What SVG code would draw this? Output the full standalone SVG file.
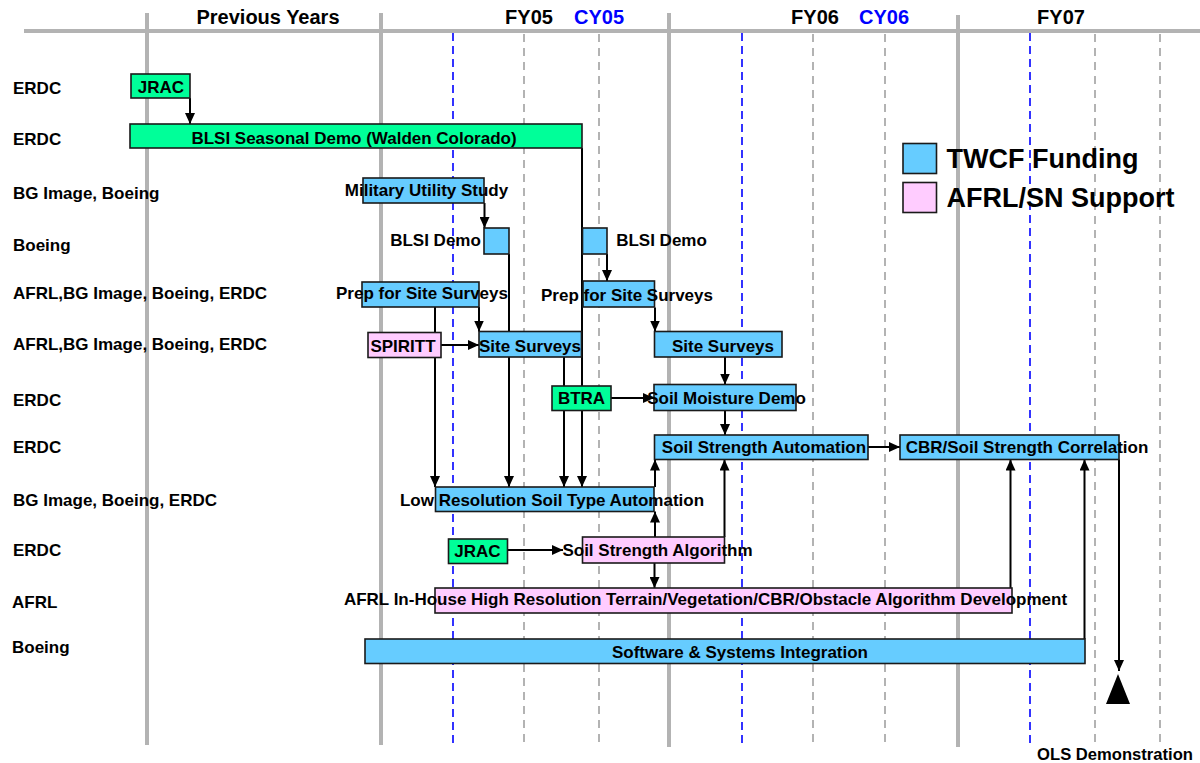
<svg xmlns="http://www.w3.org/2000/svg" width="1200" height="763" viewBox="0 0 1200 763">
<style>
text{font-family:"Liberation Sans",Arial,sans-serif;font-weight:bold;fill:#000}
.hdr{font-size:20px}
.cy{fill:#0000FF}
.lbl{font-size:17px}
.nt{font-size:17px;text-anchor:middle}
.leg{font-size:27px}
.box{stroke:#1a1a1a;stroke-width:1.6}
.g{fill:#00FF99}
.b{fill:#66CCFF}
.p{fill:#FFCCFF}
.solid{stroke:#B3B3B3;stroke-width:4}
.gd{stroke:#B3B3B3;stroke-width:2;stroke-dasharray:8 6}
.bd{stroke:#0000FF;stroke-width:1.6;stroke-dasharray:8 5}
.c{stroke:#000;stroke-width:2;fill:none;marker-end:url(#ah)}
</style>
<defs>
<marker id="ah" viewBox="0 0 11 10" refX="11" refY="5" markerWidth="11" markerHeight="10" markerUnits="userSpaceOnUse" orient="auto">
<path d="M0,0 L11,5 L0,10 z" fill="#000"/>
</marker>
</defs>
<rect width="1200" height="763" fill="#fff"/>
<g id="grid">
<line class="solid" x1="24" y1="31" x2="1200" y2="31"/>
<line class="solid" x1="147" y1="13" x2="147" y2="745"/>
<line class="solid" x1="381" y1="13" x2="381" y2="745"/>
<line class="solid" x1="669" y1="13" x2="669" y2="747"/>
<line class="solid" x1="958" y1="15" x2="958" y2="747"/>
<line class="bd" x1="453" y1="33" x2="453" y2="747"/>
<line class="bd" x1="742" y1="33" x2="742" y2="747"/>
<line class="bd" x1="1030" y1="33" x2="1030" y2="747"/>
<line class="gd" x1="524" y1="34" x2="524" y2="747"/>
<line class="gd" x1="599" y1="34" x2="599" y2="747"/>
<line class="gd" x1="813" y1="34" x2="813" y2="747"/>
<line class="gd" x1="885" y1="34" x2="885" y2="747"/>
<line class="gd" x1="1095" y1="34" x2="1095" y2="747"/>
<line class="gd" x1="1160" y1="34" x2="1160" y2="747"/>
</g>
<g id="header">
<text class="hdr" x="268" y="24" text-anchor="middle">Previous Years</text>
<text class="hdr" x="529" y="24" text-anchor="middle">FY05</text>
<text class="hdr cy" x="599" y="24" text-anchor="middle">CY05</text>
<text class="hdr" x="815" y="24" text-anchor="middle">FY06</text>
<text class="hdr cy" x="884" y="24" text-anchor="middle">CY06</text>
<text class="hdr" x="1061" y="24" text-anchor="middle">FY07</text>
</g>
<g id="row-labels">
<text class="lbl" x="13" y="94">ERDC</text>
<text class="lbl" x="13" y="145">ERDC</text>
<text class="lbl" x="13" y="199">BG Image, Boeing</text>
<text class="lbl" x="13" y="250.5">Boeing</text>
<text class="lbl" x="13" y="299">AFRL,BG Image, Boeing, ERDC</text>
<text class="lbl" x="13" y="349.5">AFRL,BG Image, Boeing, ERDC</text>
<text class="lbl" x="13" y="406">ERDC</text>
<text class="lbl" x="13" y="453">ERDC</text>
<text class="lbl" x="13" y="506">BG Image, Boeing, ERDC</text>
<text class="lbl" x="13" y="556">ERDC</text>
<text class="lbl" x="12" y="608">AFRL</text>
<text class="lbl" x="12" y="652.5">Boeing</text>
</g>
<g id="connectors">
<path class="c" d="M190,98 V124"/>
<path class="c" d="M582,148 V487"/>
<path class="c" d="M484.5,203 V228"/>
<path class="c" d="M509,254 V487"/>
<path class="c" d="M607,254 V281"/>
<path class="c" d="M479,307 V331.5"/>
<path class="c" d="M435,307 V487"/>
<path class="c" d="M441,345 H479"/>
<path class="c" d="M655,307.5 V331.5"/>
<path class="c" d="M564,357 V487"/>
<path class="c" d="M611,398 H654"/>
<path class="c" d="M725,357 V384.5"/>
<path class="c" d="M725,410.5 V435"/>
<path class="c" d="M655,487 V459.5"/>
<path class="c" d="M655,537 V511.5"/>
<path class="c" d="M724.5,537 V459.5"/>
<path class="c" d="M507.5,550 H563"/>
<path class="c" d="M654.5,563 V588"/>
<path class="c" d="M868,447 H900"/>
<path class="c" d="M1010.5,588 V459.5"/>
<path class="c" d="M1084.5,639 V459.5"/>
<path class="c" d="M1119,459.5 V671"/>
</g>
<g id="jrac1"><rect class="box g" x="131" y="74" width="59" height="24"/><text class="nt" x="161" y="93">JRAC</text></g>
<g id="blsi-seasonal"><rect class="box g" x="130" y="124" width="452" height="24"/><text class="nt" x="354" y="143.5">BLSI Seasonal Demo (Walden Colorado)</text></g>
<g id="military"><rect class="box b" x="363" y="178" width="121" height="25"/><text class="nt" x="426.5" y="196">Military Utility Study</text></g>
<g id="blsi-demo-1"><rect class="box b" x="484" y="228" width="25" height="26"/><text class="nt" x="435.5" y="246">BLSI Demo</text></g>
<g id="blsi-demo-2"><rect class="box b" x="582.5" y="228" width="24.5" height="26"/><text class="nt" x="661.5" y="246">BLSI Demo</text></g>
<g id="prep-1"><rect class="box b" x="362" y="282" width="117" height="25"/><text class="nt" x="422" y="298.5">Prep for Site Surveys</text></g>
<g id="prep-2"><rect class="box b" x="583" y="281" width="71.5" height="26"/><text class="nt" x="627" y="300.5">Prep for Site Surveys</text></g>
<g id="spiritt"><rect class="box p" x="368" y="332.5" width="73" height="25"/><text class="nt" x="403" y="351.5">SPIRITT</text></g>
<g id="site-surveys-1"><rect class="box b" x="479" y="331.5" width="102.5" height="25.5"/><text class="nt" x="530" y="351.5">Site Surveys</text></g>
<g id="site-surveys-2"><rect class="box b" x="654.5" y="331.5" width="127.5" height="25.5"/><text class="nt" x="723" y="352">Site Surveys</text></g>
<g id="btra"><rect class="box g" x="552" y="386" width="59" height="24.5"/><text class="nt" x="581.5" y="404">BTRA</text></g>
<g id="soil-moisture"><rect class="box b" x="654" y="384.5" width="142" height="26"/><text class="nt" x="726.5" y="404">Soil Moisture Demo</text></g>
<g id="soil-strength-automation"><rect class="box b" x="654.5" y="435" width="213.5" height="24.5"/><text class="nt" x="764" y="452.5">Soil Strength Automation</text></g>
<g id="cbr"><rect class="box b" x="900" y="435" width="219" height="24.5"/><text class="nt" x="1027" y="452.5">CBR/Soil Strength Correlation</text></g>
<g id="low-res"><rect class="box b" x="435.5" y="487" width="218.5" height="24.5"/><text class="nt" x="552" y="505.5">Low Resolution Soil Type Automation</text></g>
<g id="jrac2"><rect class="box g" x="448.5" y="539" width="59" height="24.5"/><text class="nt" x="477.5" y="556.5">JRAC</text></g>
<g id="soil-strength-algorithm"><rect class="box p" x="582.5" y="537" width="142" height="26"/><text class="nt" x="657.5" y="556">Soil Strength Algorithm</text></g>
<g id="afrl-inhouse"><rect class="box p" x="435" y="588" width="577" height="25"/><text class="nt" x="705.5" y="604.5">AFRL In-House High Resolution Terrain/Vegetation/CBR/Obstacle Algorithm Development</text></g>
<g id="software"><rect class="box b" x="365" y="639" width="720" height="24.5"/><text class="nt" x="740" y="658">Software &amp; Systems Integration</text></g>
<g id="ols"><polygon points="1118,674 1106,704 1130,704" fill="#000"/><text x="1115" y="760" font-size="16.6" text-anchor="middle">OLS Demonstration</text></g>
<g id="legend">
<rect class="box b" x="903" y="143.5" width="33.5" height="30"/>
<text class="leg" x="946.5" y="167.5">TWCF Funding</text>
<rect class="box p" x="903" y="182.5" width="33.5" height="30"/>
<text class="leg" x="946.5" y="206.5">AFRL/SN Support</text>
</g>
</svg>
